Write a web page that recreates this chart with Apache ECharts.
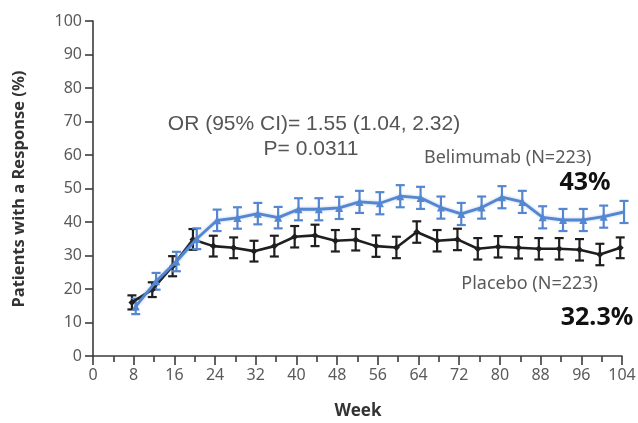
<!DOCTYPE html>
<html>
<head>
<meta charset="utf-8">
<script src="https://cdn.jsdelivr.net/npm/echarts@6/dist/echarts.min.js"></script>
<style>
  html, body { margin: 0; padding: 0; background: #ffffff; }
  #chart { width: 638px; height: 423px; }
</style>
</head>
<body>
<div id="chart"></div>
<script>
// Visit weeks (every 4 weeks from week 8 to week 104)
const weeks = [8, 12, 16, 20, 24, 28, 32, 36, 40, 44, 48, 52, 56, 60, 64, 68, 72, 76, 80, 84, 88, 92, 96, 100, 104];

// Response rate (%) and standard error per visit
const belimumab    = [14.8, 22.3, 28.2, 35.0, 40.5, 41.2, 42.5, 41.3, 43.8, 43.8, 44.2, 46.0, 45.6, 47.7, 47.2, 44.3, 42.4, 44.3, 47.4, 46.0, 41.4, 40.6, 40.6, 41.6, 43];
const belimumabErr = [2.3, 2.5, 2.9, 3.1, 3.2, 3.2, 3.2, 3.2, 3.3, 3.3, 3.3, 3.3, 3.3, 3.3, 3.3, 3.3, 3.3, 3.3, 3.3, 3.3, 3.3, 3.3, 3.3, 3.3, 3.3];
const placebo      = [16.0, 19.8, 26.8, 34.8, 32.8, 32.3, 31.3, 32.8, 35.6, 36.0, 34.4, 34.7, 32.8, 32.4, 37.0, 34.4, 34.8, 32.0, 32.6, 32.3, 32.0, 32.0, 31.7, 30.3, 32.3];
const placeboErr   = [2.1, 2.2, 3.0, 3.1, 3.1, 3.1, 3.1, 3.1, 3.2, 3.2, 3.2, 3.2, 3.2, 3.2, 3.2, 3.2, 3.2, 3.2, 3.2, 3.2, 3.2, 3.2, 3.2, 3.2, 3.1];

// Labels
const seriesNames = ['Belimumab (N=223)', 'Placebo (N=223)'];
const yAxisTitle = 'Patients with a Response (%)';
const xAxisTitle = 'Week';
const statsLine1 = 'OR (95% CI)= 1.55 (1.04, 2.32)';
const statsLine2 = 'P= 0.0311';

// Small horizontal dodge so the two groups' error bars do not overlap
const dodge = { belimumab: 0.4, placebo: -0.35 };

const BLUE = '#5586d0';
const BLACK = '#1f1f1f';
const AXIS = '#3c3c3c';
const LABEL = '#5a5a5a';

function points(values, offset) {
  return weeks.map((w, i) => [w + offset, values[i]]);
}

function errorBars(name, values, errs, offset, color) {
  return {
    type: 'custom',
    name: name + ' SE',
    z: 2,
    silent: true,
    data: weeks.map((w, i) => [w + offset, values[i] - errs[i], values[i] + errs[i]]),
    encode: { x: 0, y: [1, 2] },
    renderItem(params, api) {
      const lo = api.coord([api.value(0), api.value(1)]);
      const hi = api.coord([api.value(0), api.value(2)]);
      const hw = 4.5;
      const style = { stroke: color, lineWidth: 2.2 };
      return {
        type: 'group',
        children: [
          { type: 'line', shape: { x1: lo[0], y1: lo[1], x2: hi[0], y2: hi[1] }, style },
          { type: 'line', shape: { x1: lo[0] - hw, y1: lo[1], x2: lo[0] + hw, y2: lo[1] }, style },
          { type: 'line', shape: { x1: hi[0] - hw, y1: hi[1], x2: hi[0] + hw, y2: hi[1] }, style }
        ]
      };
    }
  };
}

const chart = echarts.init(document.getElementById('chart'), null, { renderer: 'canvas' });

const lastBel = belimumab[belimumab.length - 1];
const lastPla = placebo[placebo.length - 1];

chart.setOption({
  animation: false,
  backgroundColor: '#ffffff',
  grid: { left: 93, right: 16, top: 21, bottom: 67, outerBoundsMode: 'none' },
  xAxis: {
    type: 'value',
    min: 0, max: 104, interval: 8,
    axisLine: { show: true, onZero: false, lineStyle: { color: AXIS, width: 1.6 } },
    axisTick: { show: true, length: 9, lineStyle: { color: AXIS, width: 1.6 } },
    minorTick: { show: true, splitNumber: 2, length: 6, lineStyle: { color: AXIS, width: 1.6 } },
    splitLine: { show: false },
    axisLabel: { color: LABEL, fontFamily: 'Noto Sans', fontSize: 16, margin: 11 }
  },
  yAxis: {
    type: 'value',
    min: 0, max: 100, interval: 10,
    axisLine: { show: true, lineStyle: { color: AXIS, width: 1.6 } },
    axisTick: { show: true, length: 8, lineStyle: { color: AXIS, width: 1.6 } },
    splitLine: { show: false },
    axisLabel: { color: LABEL, fontFamily: 'Noto Sans', fontSize: 16, margin: 11 }
  },
  series: [
    errorBars(seriesNames[1], placebo, placeboErr, dodge.placebo, BLACK),
    {
      type: 'line',
      name: seriesNames[1],
      data: points(placebo, dodge.placebo),
      z: 3,
      symbol: 'diamond',
      symbolSize: 7,
      lineStyle: { color: BLACK, width: 2.6 },
      itemStyle: { color: BLACK }
    },
    errorBars(seriesNames[0], belimumab, belimumabErr, dodge.belimumab, BLUE),
    {
      type: 'line',
      name: seriesNames[0],
      data: points(belimumab, dodge.belimumab),
      z: 4,
      symbol: 'triangle',
      symbolSize: 8,
      lineStyle: { color: BLUE, width: 2.8, shadowColor: 'rgba(85,134,208,0.45)', shadowBlur: 3 },
      itemStyle: { color: BLUE }
    }
  ],
  graphic: [
    {
      type: 'text', x: 19, y: 189, rotation: Math.PI / 2,
      style: { text: yAxisTitle, fill: '#333333', font: 'bold 16.5px "Noto Sans"', align: 'center', verticalAlign: 'middle' }
    },
    {
      type: 'text', x: 358, y: 411,
      style: { text: xAxisTitle, fill: '#333333', font: 'bold 17px "Noto Sans"', align: 'center', verticalAlign: 'middle' }
    },
    {
      type: 'text', x: 314, y: 124,
      style: { text: statsLine1, fill: '#555555', font: '21px "Liberation Sans"', align: 'center', verticalAlign: 'middle' }
    },
    {
      type: 'text', x: 311, y: 149,
      style: { text: statsLine2, fill: '#555555', font: '21px "Liberation Sans"', align: 'center', verticalAlign: 'middle' }
    },
    {
      type: 'text', x: 424, y: 158,
      style: { text: seriesNames[0], fill: '#5a5a5a', font: '18px "Noto Sans"', align: 'left', verticalAlign: 'middle' }
    },
    {
      type: 'text', x: 598, y: 284,
      style: { text: seriesNames[1], fill: '#5a5a5a', font: '18px "Noto Sans"', align: 'right', verticalAlign: 'middle' }
    },
    {
      type: 'text', x: 585, y: 183,
      style: { text: lastBel + '%', fill: '#111111', font: 'bold 25px "Noto Sans"', align: 'center', verticalAlign: 'middle' }
    },
    {
      type: 'text', x: 597, y: 318,
      style: { text: lastPla + '%', fill: '#111111', font: 'bold 25px "Noto Sans"', align: 'center', verticalAlign: 'middle' }
    }
  ]
});
</script>
</body>
</html>
